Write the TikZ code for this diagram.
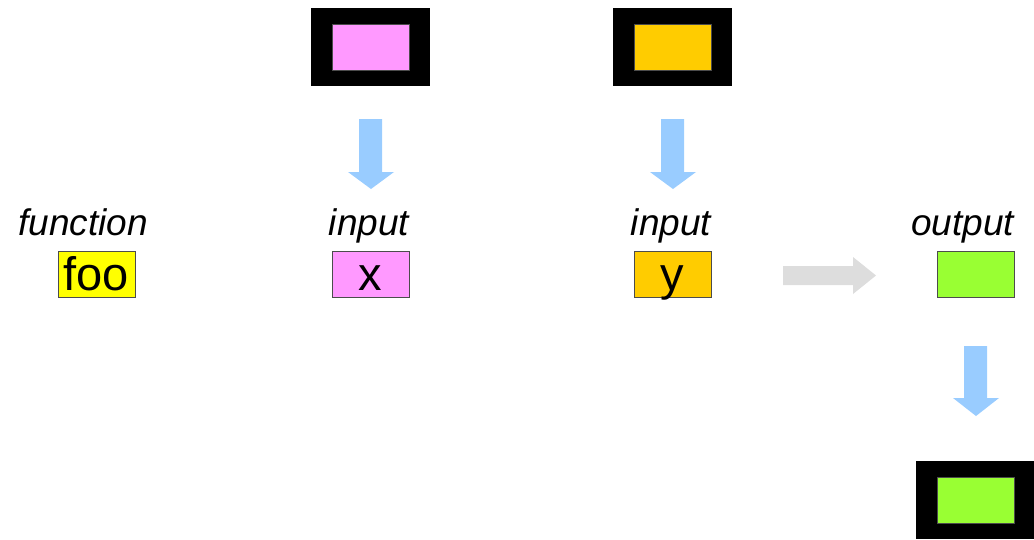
\documentclass[tikz,border=0pt]{standalone}
\usepackage{fontspec}
\setmainfont{Liberation Sans}
\definecolor{cpink}{HTML}{FF99FF}
\definecolor{corange}{HTML}{FFCC00}
\definecolor{cgreen}{HTML}{99FF33}
\definecolor{cyellow}{HTML}{FFFF00}
\definecolor{cblue}{HTML}{99CCFF}
\definecolor{cgray}{HTML}{DDDDDD}
\begin{document}
\begin{tikzpicture}[x=1pt,y=-1pt,
  frame/.style={fill=black,draw=none,minimum width=119pt,minimum height=78pt,inner sep=0pt},
  inner/.style={fill=#1,draw=black!70,line width=0.6pt,minimum width=77pt,minimum height=46pt,inner sep=0pt},
  cell/.style={fill=#1,draw=black!70,line width=0.8pt,minimum width=77pt,minimum height=46pt,inner sep=0pt},
  lbl/.style={font=\fontsize{37}{37}\selectfont\itshape,anchor=base,inner sep=0pt},
  val/.style={font=\fontsize{47}{47}\selectfont,anchor=base,inner sep=0pt},
  blockdown/.style={fill=cblue,draw=none},
  blockright/.style={fill=cgray,draw=none}]
\useasboundingbox (0,0) rectangle (1034,539);
% top frames
\node[frame] (fx) at (370.5,47) {};
\node[inner=cpink] (fxi) at (370.5,47) {};
\node[frame] (fy) at (672.5,47) {};
\node[inner=corange] (fyi) at (672.5,47) {};
% bottom frame
\node[frame] (fo) at (975,500) {};
\node[inner=cgreen] (foi) at (975.5,500.5) {};
% cells
\node[cell=cyellow,minimum width=77pt] (foo) at (96.5,274) {};
\node[cell=cpink] (x) at (370.5,274) {};
\node[cell=corange] (y) at (672.5,274) {};
\node[cell=cgreen] (out) at (975.5,274) {};
% values
\node[val] (foot) at (96,290) {foo};
\node[val] (xt) at (370.5,290) {x};
\node[val] (yt) at (672.5,290) {y};
% labels
\node[lbl] (l1) at (83,235) {function};
\node[lbl] (l2) at (369,235) {input};
\node[lbl] (l3) at (671,235) {input};
\node[lbl] (l4) at (962.5,235) {output};
% block arrows
\fill[blockdown] (359,119) -- (382,119) -- (382,172) -- (394,172) -- (371,189) -- (348,172) -- (359,172) -- cycle;
\fill[blockdown] (661,119) -- (684,119) -- (684,172) -- (696,172) -- (673,189) -- (650,172) -- (661,172) -- cycle;
\fill[blockdown] (964,346) -- (987,346) -- (987,398) -- (999,398) -- (976,416) -- (953,398) -- (964,398) -- cycle;
\fill[blockright] (783,266) -- (853,266) -- (853,257) -- (876,275.5) -- (853,294) -- (853,285) -- (783,285) -- cycle;
\end{tikzpicture}
\end{document}
